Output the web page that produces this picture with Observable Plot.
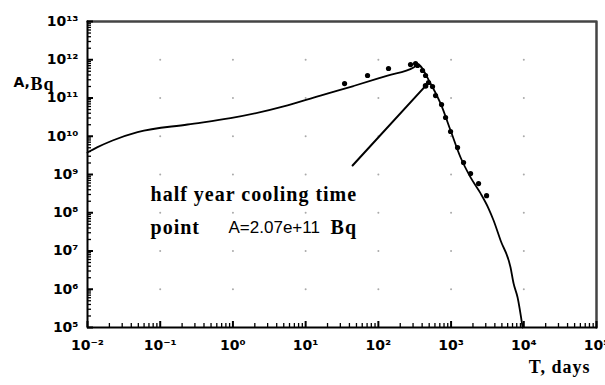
<!DOCTYPE html>
<html><head><meta charset="utf-8">
<script src="https://cdn.jsdelivr.net/npm/d3@7"></script>
<script src="https://cdn.jsdelivr.net/npm/@observablehq/plot@0.6"></script>
<style>
body{margin:0;background:#fff;}
#chart svg{display:block;}
</style></head><body><div id="chart"></div>
<script>
// Model curve: activity A (Bq) vs time T (days)
const curveDays = [0.01, 0.01374, 0.0221, 0.0488, 0.238, 0.927, 5.64, 16.0, 27.5, 45.6, 134, 305, 350, 522, 717, 985, 1352, 1854, 2545, 3281, 3846, 4800, 6577, 7244, 8222, 9640];
const curveBq   = [3.76e9, 5.18e9, 7.76e9, 1.28e10, 2.03e10, 2.96e10, 6.37e10, 1.16e11, 1.55e11, 2.06e11, 3.87e11, 6.27e11, 7.4e11, 2.39e11, 7.2e10, 1.41e10, 2.78e9, 8.4e8, 3.2e8, 1.29e8, 6.27e7, 1.88e7, 3.7e6, 1.41e6, 6.1e5, 1e5];
// Measured points
const dotDays = [34.3, 71, 138, 277, 325, 346, 405, 446, 490, 556, 612, 740, 840, 984, 1228, 1485, 1854, 2388, 3076];
const dotBq   = [2.39e11, 3.87e11, 5.9e11, 7.5e11, 7.98e11, 7.08e11, 5.24e11, 3.87e11, 2.54e11, 2.0e11, 1.16e11, 6.76e10, 3.09e10, 1.33e10, 5.08e9, 2.06e9, 1.06e9, 5.8e8, 2.8e8];
// Annotation arrow (from the label to the half-year cooling point)
const arrowDays = [44.2, 446];
const arrowBq   = [1.72e9, 2.07e11];
// Axes
const xDecades = [1e-2, 1e-1, 1, 10, 100, 1e3, 1e4, 1e5];
const xTickLabels = ["10\u207B\u00B2", "10\u207B\u00B9", "10\u2070", "10\u00B9", "10\u00B2", "10\u00B3", "10\u2074", "10\u2075"];
const yDecades = [1e5, 1e6, 1e7, 1e8, 1e9, 1e10, 1e11, 1e12, 1e13];
const yTickLabels = ["10\u2075", "10\u2076", "10\u2077", "10\u2078", "10\u2079", "10\u00B9\u2070", "10\u00B9\u00B9", "10\u00B9\u00B2", "10\u00B9\u00B3"];
const minorMultipliers = [2, 3, 4, 5, 6, 7, 8, 9];

const W = 605, H = 385, mL = 87, mR = 9, mT = 21, mB = 58;
const plotW = W - mL - mR, plotH = H - mT - mB;

const curve = curveDays.map((d, i) => ({x: d, y: curveBq[i]}));
const dots = dotDays.map((d, i) => ({x: d, y: dotBq[i]}));
const arrow = arrowDays.map((d, i) => ({x: d, y: arrowBq[i]}));
const xMinor = xDecades.slice(0, -1).flatMap(d => minorMultipliers.map(m => d * m));
const yMinor = yDecades.slice(0, -1).flatMap(d => minorMultipliers.map(m => d * m));
const gridPts = xDecades.slice(1, -1).flatMap(x => yDecades.slice(1, -1).map(y => ({x, y})));
const xMin = xDecades[0], xMax = xDecades[xDecades.length - 1];
const yMin = yDecades[0], yMax = yDecades[yDecades.length - 1];
const topRight = [{x: xMin, y: yMax}, {x: xMax, y: yMax}, {x: xMax, y: yMin}];
const leftBottom = [{x: xMin, y: yMax}, {x: xMin, y: yMin}, {x: xMax, y: yMin}];

const sansBold = "DejaVu Sans";
const serif = "'Liberation Serif', 'Times New Roman', serif";

const chart = Plot.plot({
  width: W, height: H,
  marginLeft: mL, marginRight: mR, marginTop: mT, marginBottom: mB,
  x: {type: "log", domain: [xMin, xMax]},
  y: {type: "log", domain: [yMin, yMax]},
  marks: [
    Plot.axisX(xDecades, {tickSize: 0, tickPadding: 13, label: null, fontSize: 14, fontWeight: "bold", fontFamily: sansBold,
      tickFormat: d => xTickLabels[xDecades.indexOf(d)]}),
    Plot.axisY(yDecades, {tickSize: 0, tickPadding: 9, label: null, fontSize: 14, fontWeight: "bold", fontFamily: sansBold,
      tickFormat: d => yTickLabels[yDecades.indexOf(d)]}),
    // faint decade grid dots
    Plot.dot(gridPts, {x: "x", y: "y", r: 1, fill: "#aaa"}),
    // frame: grey top/right, black left/bottom
    Plot.line(topRight, {x: "x", y: "y", stroke: "#444", strokeWidth: 2.5}),
    Plot.line(leftBottom, {x: "x", y: "y", stroke: "#000", strokeWidth: 2}),
    // inward ticks
    Plot.ruleY(yMinor, {stroke: "#000", strokeWidth: 1.3, insetRight: plotW - 4}),
    Plot.ruleY(yDecades, {stroke: "#000", strokeWidth: 2, insetRight: plotW - 6}),
    Plot.ruleX(xMinor, {stroke: "#000", strokeWidth: 1.3, insetTop: plotH - 4}),
    Plot.ruleX(xDecades, {stroke: "#000", strokeWidth: 2, insetTop: plotH - 6}),
    // data
    Plot.line(curve, {x: "x", y: "y", stroke: "#000", strokeWidth: 1.8, curve: "monotone-x"}),
    Plot.line(arrow, {x: "x", y: "y", stroke: "#000", strokeWidth: 2}),
    Plot.dot(dots, {x: "x", y: "y", r: 2.6, fill: "#000"}),
    Plot.dot(arrow.slice(1), {x: "x", y: "y", r: 2.8, fill: "#000"}),
    // annotation
    Plot.text(["half year cooling time"], {x: 0.0736, y: 3.0e8, text: d => d, textAnchor: "start", fontSize: 20, fontWeight: "bold", fontFamily: serif, ariaDescription: "serif"}),
    Plot.text(["point"], {x: 0.0736, y: 4.2e7, text: d => d, textAnchor: "start", fontSize: 20, fontWeight: "bold", fontFamily: serif, ariaDescription: "serif"}),
    Plot.text(["A=2.07e+11"], {x: 0.87, y: 4.2e7, text: d => d, textAnchor: "start", fontSize: 17, fontFamily: "'Liberation Sans', Arial, sans-serif"}),
    Plot.text(["Bq"], {x: 22.0, y: 4.2e7, text: d => d, textAnchor: "start", fontSize: 20, fontWeight: "bold", fontFamily: serif, ariaDescription: "serif"}),
    // axis titles
    Plot.text(["A,"], {frameAnchor: "top-left", dx: -74, dy: 56, text: d => d, textAnchor: "start", fontSize: 14, fontWeight: "bold", fontFamily: sansBold}),
    Plot.text(["Bq"], {frameAnchor: "top-left", dx: -57, dy: 56, text: d => d, textAnchor: "start", fontSize: 18, fontWeight: "bold", fontFamily: serif, ariaDescription: "serif"}),
    Plot.text(["T, days"], {frameAnchor: "bottom-right", dx: -6, dy: 45, text: d => d, textAnchor: "end", fontSize: 18, fontWeight: "bold", fontFamily: serif, ariaDescription: "serif"})
  ]
});
// widen serif annotation letters slightly, as in the reference
d3.select(chart).selectAll('g[aria-description="serif"] text').style("letter-spacing", "1px");
document.getElementById("chart").appendChild(chart);
</script>
</body></html>
